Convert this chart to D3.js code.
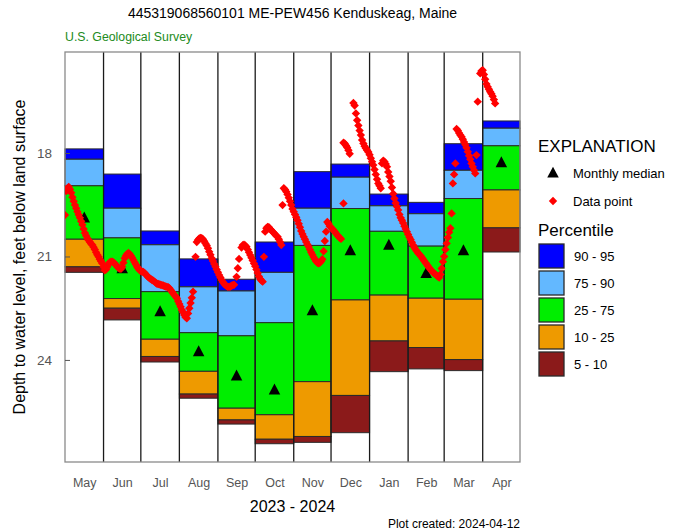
<!DOCTYPE html>
<html>
<head>
<meta charset="utf-8">
<script src="https://cdn.jsdelivr.net/npm/d3@7"></script>
<style>
  body { margin: 0; background: #fff; }
  text { font-family: "Liberation Sans", Arial, sans-serif; }
</style>
</head>
<body>
<svg width="676" height="531"></svg>
<script>
// month columns
var months = ["May", "Jun", "Jul", "Aug", "Sep", "Oct", "Nov", "Dec", "Jan", "Feb", "Mar", "Apr"];
var monthStarts = ["2023-05-01", "2023-06-01", "2023-07-01", "2023-08-01", "2023-09-01", "2023-10-01",
                   "2023-11-01", "2023-12-01", "2024-01-01", "2024-02-01", "2024-03-01", "2024-04-01"];

// percentiles of depth to water (feet below land surface)
var p95 = [17.88, 18.61, 20.26, 21.07, 21.66, 20.58, 18.54, 18.32, 19.19, 19.43, 17.73, 17.07];
var p90 = [18.18, 19.60, 20.66, 21.88, 22.00, 21.46, 19.60, 18.70, 19.53, 19.76, 18.50, 17.28];
var p75 = [18.95, 20.46, 22.02, 23.21, 23.30, 22.92, 20.68, 19.61, 20.27, 20.70, 19.32, 17.79];
var p25 = [20.50, 22.22, 23.40, 24.33, 25.40, 25.59, 24.63, 22.26, 22.12, 22.21, 22.24, 19.07];
var p10 = [21.30, 22.50, 23.90, 24.99, 25.74, 26.30, 26.22, 25.03, 23.45, 23.64, 23.99, 20.17];
var p5  = [21.46, 22.84, 24.06, 25.11, 25.86, 26.43, 26.39, 26.11, 24.34, 24.26, 24.31, 20.87];
var medians = [19.88, 21.35, 22.60, 23.76, 24.46, 24.87, 22.57, 20.83, 20.67, 21.49, 20.83, 18.28];

// daily data points, one value per day from the first of each month (null = no value)
var mayLevels = [19.80, 19.10, 19.02, 18.98, 19.05, 19.15, 19.28, 19.40, 19.51, 19.60, 19.70, 19.79, 19.88, 19.98, 20.08, 20.20,
                 20.32, 20.40, 20.47, 20.53, 20.58, 20.63, 20.67, 20.73, 20.80, 20.88, 20.95, 21.01, 21.08, 21.14, 21.20];
var junLevels = [21.30, 21.40, 21.38, 21.30, 21.22, 21.17, 21.15, 21.15, 21.17, 21.20, 21.25, 21.30, 21.33, 21.35, 21.36,
                 21.30, 21.18, 21.05, 20.98, 20.93, 20.90, 20.93, 20.98, 21.04, 21.10, 21.17, 21.23, 21.30, 21.35, 21.40];
var julLevels = [21.42, 21.44, 21.45, 21.48, 21.52, 21.56, 21.60, 21.63, 21.65, 21.68, 21.70, 21.73, 21.76, 21.79, 21.80, 21.81,
                 21.82, 21.83, 21.84, 21.86, 21.87, 21.88, 21.89, 21.92, 21.97, 22.02, 22.07, 22.12, 22.16, 22.21, 22.30];
var augLevels = [22.38, 22.46, 22.55, 22.62, 22.70, 22.76, 22.79, 22.65, 22.50, 22.35, 22.20, 22.02, null, 21.01, 20.58, 20.52,
                 20.48, 20.46, 20.47, 20.50, 20.56, 20.62, 20.68, 20.76, 20.86, 20.95, 21.05, 21.13, 21.22, 21.30, 21.38];
var sepLevels = [21.46, 21.54, 21.61, 21.68, 21.74, 21.79, 21.83, 21.86, 21.88, 21.88, 21.87, 21.85, 21.83, 21.82, null,
                 21.59, 21.34, 21.07, null, 20.74, 20.67, 20.66, 20.68, 20.72, 20.80, 20.88, 20.96, 21.04, 21.12, 21.20];
var octLevels = [21.28, 21.38, 21.48, 21.58, 21.65, 21.70, 21.73, 21.01, 20.28, 20.18, 20.14, 20.15, 20.20, 20.24, 20.28, 20.32,
                 20.36, 20.40, 20.43, 20.50, 20.58, 20.67, 19.51, 19.02, 19.06, 19.12, 19.20, 19.30, 19.40, 19.51, 19.62];
var novLevels = [19.70, 19.78, 19.86, 19.95, 20.05, 20.15, 20.26, 20.35, 20.43, 20.50, 20.58, 20.65, 20.72, 20.80, 20.88,
                 20.95, 21.02, 21.08, 21.14, 21.18, 21.20, 21.18, 21.14, 21.08, 20.85, 20.55, 20.28, 20.00, 20.05, 20.12];
var decLevels = [20.16, 20.20, 20.24, 20.28, 20.33, 20.38, 20.42, 20.46, 20.49, null, 17.70, 17.72, 17.78, 17.84, 17.92, 18.02,
                 null, null, 16.55, 16.62, 16.85, 17.05, 17.20, 17.35, 17.48, 17.62, 17.72, 17.80, 17.86, 17.92, 17.97];
var janLevels = [18.05, 18.15, 18.25, 18.35, 18.48, 18.62, 18.76, 18.88, 18.95, 19.02, 18.30, 18.22, 18.25, 18.32, 18.40, 18.55,
                 18.68, 18.82, 19.00, 19.18, 19.32, 19.45, 19.55, 19.65, 19.78, 19.88, 19.95, 20.03, 20.12, 20.20, 20.28];
var febLevels = [20.36, 20.44, 20.51, 20.59, 20.67, 20.74, 20.80, 20.85, 20.90, 20.94, 20.98, 21.03, 21.08, 21.13, 21.18,
                 21.23, 21.28, 21.33, 21.38, 21.42, 21.46, 21.49, 21.52, 21.55, 21.58, 21.61, 21.52, 21.35, 21.15];
var marLevels = [21.00, 20.80, 20.62, 20.45, 20.30, 20.18, 19.75, 18.88, 18.62, 18.30, 17.30, 17.35, 17.42, 17.48, 17.53, 17.60,
                 17.68, 17.76, 17.85, 17.96, 18.08, 18.18, 18.30, 18.40, 18.50, 18.59, 18.06, 16.51, null, 15.69, 15.62];
var aprLevels = [15.60, 15.72, 15.86, 16.00, 16.08, 16.15, 16.22, 16.28, 16.35, 16.45, 16.56];
var extraPoints = [["2023-12-11", 19.46]];

var levelsByMonth = [mayLevels, junLevels, julLevels, augLevels, sepLevels, octLevels,
                     novLevels, decLevels, janLevels, febLevels, marLevels, aprLevels];

var bandNames = ["90 - 95", "75 - 90", "25 - 75", "10 - 25", "5 - 10"];
var bandColors = ["#0000ff", "#63b8ff", "#00ee00", "#ee9a00", "#8b1a1a"];

var svg = d3.select("svg");
var parse = d3.utcParse("%Y-%m-%d");

var plotLeft = 65, plotRight = 520, plotTop = 52, plotBottom = 462;
var dotR = 4.2;

var x = d3.scaleUtc()
    .domain([parse("2023-05-01"), parse("2024-05-01")])
    .range([plotLeft, plotRight]);
var y = d3.scaleLinear()
    .domain([15.07, 26.96])
    .range([plotTop, plotBottom]);

var cols = months.map(function(m, i) {
  var start = parse(monthStarts[i]);
  var end = d3.utcMonth.offset(start, 1);
  return {
    name: m, start: start, end: end,
    mid: new Date((start.getTime() + end.getTime()) / 2),
    edges: [p95[i], p90[i], p75[i], p25[i], p10[i], p5[i]],
    median: medians[i]
  };
});

svg.append("defs").append("clipPath").attr("id", "plotclip")
  .append("rect").attr("x", plotLeft).attr("y", plotTop)
  .attr("width", plotRight - plotLeft).attr("height", plotBottom - plotTop);

// percentile boxes
var boxes = svg.append("g");
cols.forEach(function(c) {
  for (var b = 0; b < 5; b++) {
    boxes.append("rect")
        .attr("x", x(c.start))
        .attr("width", x(c.end) - x(c.start))
        .attr("y", y(c.edges[b]))
        .attr("height", y(c.edges[b + 1]) - y(c.edges[b]))
        .attr("fill", bandColors[b])
        .attr("stroke", "#2a2a2a")
        .attr("stroke-width", 1);
  }
});

// month separators
svg.append("g").selectAll("line")
  .data(cols.slice(1))
  .enter().append("line")
    .attr("x1", function(d) { return x(d.start); })
    .attr("x2", function(d) { return x(d.start); })
    .attr("y1", plotTop).attr("y2", plotBottom)
    .attr("stroke", "#1a1a1a")
    .attr("stroke-width", 1.3);

// frame
svg.append("rect")
    .attr("x", plotLeft).attr("y", plotTop)
    .attr("width", plotRight - plotLeft).attr("height", plotBottom - plotTop)
    .attr("fill", "none")
    .attr("stroke", "#8a8a8a")
    .attr("stroke-width", 1.3);

function triangle(cx, cy, s) {
  return "M" + cx + "," + (cy - s * 0.55) + "L" + (cx + s / 2) + "," + (cy + s * 0.4) +
         "L" + (cx - s / 2) + "," + (cy + s * 0.4) + "Z";
}
function diamond(cx, cy, r) {
  return "M" + cx + "," + (cy - r) + "L" + (cx + r) + "," + cy + "L" + cx + "," + (cy + r) + "L" + (cx - r) + "," + cy + "Z";
}

// medians
svg.append("g").selectAll("path")
  .data(cols)
  .enter().append("path")
    .attr("d", function(d) { return triangle(x(d.mid), y(d.median), 11.5); })
    .attr("fill", "#000");

// data points
var points = [];
levelsByMonth.forEach(function(vals, i) {
  var start = parse(monthStarts[i]);
  vals.forEach(function(v, j) {
    if (v != null) points.push({ date: d3.utcDay.offset(start, j), value: v });
  });
});
extraPoints.forEach(function(p) { points.push({ date: parse(p[0]), value: p[1] }); });

svg.append("g").attr("clip-path", "url(#plotclip)")
  .selectAll("path")
  .data(points)
  .enter().append("path")
    .attr("d", function(d) { return diamond(x(d.date), y(d.value), dotR); })
    .attr("fill", "#ff0000");

// y axis
var yAxis = svg.append("g")
    .attr("transform", "translate(" + plotLeft + ",0)")
    .call(d3.axisLeft(y).tickValues([18, 21, 24]).tickSize(-5).tickPadding(13));
yAxis.select(".domain").remove();
yAxis.selectAll("line").attr("stroke", "#555");
yAxis.selectAll("text").attr("fill", "#555").style("font-size", "13.5px");

// x axis (month names)
var xAxis = svg.append("g")
    .attr("transform", "translate(0," + plotBottom + ")")
    .call(d3.axisBottom(x)
      .tickValues(cols.map(function(d) { return d.mid; }))
      .tickFormat(function(d, i) { return months[i]; })
      .tickSize(0).tickPadding(16));
xAxis.select(".domain").remove();
xAxis.selectAll("text").attr("fill", "#555").style("font-size", "12.5px");

// titles
svg.append("text")
    .attr("x", (plotLeft + plotRight) / 2).attr("y", 18)
    .attr("text-anchor", "middle")
    .style("font-size", "14px")
    .text("445319068560101 ME-PEW456 Kenduskeag, Maine");
svg.append("text")
    .attr("x", plotLeft).attr("y", 41)
    .attr("fill", "#228b22")
    .style("font-size", "12.3px")
    .text("U.S. Geological Survey");
svg.append("text")
    .attr("transform", "translate(25," + ((plotTop + plotBottom) / 2) + ") rotate(-90)")
    .attr("text-anchor", "middle")
    .style("font-size", "16px")
    .text("Depth to water level, feet below land surface");
svg.append("text")
    .attr("x", (plotLeft + plotRight) / 2).attr("y", 512)
    .attr("text-anchor", "middle")
    .style("font-size", "16px")
    .text("2023 - 2024");
svg.append("text")
    .attr("x", plotRight).attr("y", 528)
    .attr("text-anchor", "end")
    .style("font-size", "12px")
    .text("Plot created: 2024-04-12");

// legend
var lg = svg.append("g");
lg.append("text").attr("x", 538).attr("y", 152).style("font-size", "17px").text("EXPLANATION");
lg.append("path").attr("d", triangle(553, 173, 11.5)).attr("fill", "#000");
lg.append("text").attr("x", 573).attr("y", 178).style("font-size", "13px").text("Monthly median");
lg.append("path").attr("d", diamond(553, 201, dotR)).attr("fill", "#ff0000");
lg.append("text").attr("x", 573).attr("y", 206).style("font-size", "13px").text("Data point");
lg.append("text").attr("x", 538).attr("y", 236).style("font-size", "17px").text("Percentile");

var items = lg.selectAll("g.item")
  .data(bandNames)
  .enter().append("g")
    .attr("class", "item")
    .attr("transform", function(d, i) { return "translate(539," + (244 + i * 27) + ")"; });
items.append("rect")
    .attr("width", 25).attr("height", 24)
    .attr("fill", function(d, i) { return bandColors[i]; })
    .attr("stroke", "#2a2a2a")
    .attr("stroke-width", 1.3);
items.append("text")
    .attr("x", 35).attr("y", 17)
    .style("font-size", "13px")
    .text(function(d) { return d; });
</script>
</body>
</html>
